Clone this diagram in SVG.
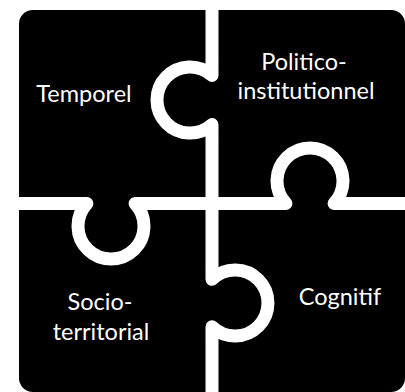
<svg xmlns="http://www.w3.org/2000/svg" width="405" height="392" viewBox="0 0 405 392">
  <style>
    .piece { fill: #000000; }
    .label { fill: #ffffff; font-family: Lato, "Open Sans", "Liberation Sans", sans-serif; font-size: 23.5px; text-anchor: middle; }
    .seam { fill: none; stroke: #ffffff; stroke-width: 13; stroke-linejoin: round; stroke-linecap: butt; }
  </style>
  <defs>
    <clipPath id="board">
      <rect x="19" y="10" width="386" height="382" rx="14" ry="14"/>
    </clipPath>
  </defs>
  <rect width="405" height="392" fill="#ffffff"/>
  <g clip-path="url(#board)">
    <g id="temporel">
      <path class="piece" d="M0,0 L212,0 L212,75.4 A33,33 0 1 0 212,124.6 L212,203.5 L135.1,203.5 A33,33 0 1 1 86.9,203.5 L0,203.5 Z"/>
      <text class="label" x="84" y="102">Temporel</text>
    </g>
    <g id="politico-institutionnel">
      <path class="piece" d="M212,0 L405,0 L405,203.5 L334.1,203.5 A33,33 0 1 0 285.9,203.5 L212,203.5 L212,124.6 A33,33 0 1 1 212,75.4 Z"/>
      <text class="label" x="304" y="70">Politico-</text>
      <text class="label" x="306" y="99">institutionnel</text>
    </g>
    <g id="socio-territorial">
      <path class="piece" d="M0,203.5 L86.9,203.5 A33,33 0 1 0 135.1,203.5 L212,203.5 L212,279.3 A33,33 0 1 1 212,326.7 L212,392 L0,392 Z"/>
      <text class="label" x="100" y="310">Socio-</text>
      <text class="label" x="101" y="340">territorial</text>
    </g>
    <g id="cognitif">
      <path class="piece" d="M212,203.5 L285.9,203.5 A33,33 0 1 1 334.1,203.5 L405,203.5 L405,392 L212,392 L212,326.7 A33,33 0 1 0 212,279.3 Z"/>
      <text class="label" x="340" y="305">Cognitif</text>
    </g>
    <g id="connectors">
      <path class="seam" d="M212,0 L212,75.4 A33,33 0 1 0 212,124.6 L212,203.5 L212,279.3 A33,33 0 1 1 212,326.7 L212,392"/>
      <path class="seam" d="M0,203.5 L86.9,203.5 A33,33 0 1 0 135.1,203.5 L285.9,203.5 A33,33 0 1 1 334.1,203.5 L405,203.5"/>
    </g>
  </g>
</svg>
